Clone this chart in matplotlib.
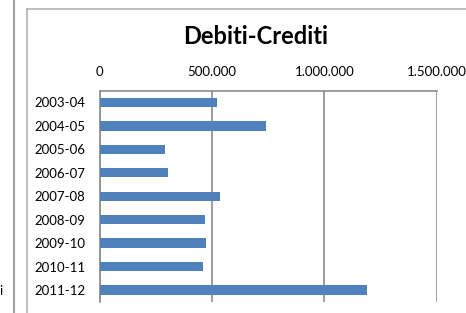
import matplotlib.pyplot as plt
from matplotlib.lines import Line2D
from matplotlib.ticker import FuncFormatter

# dati
stagioni = ["2003-04", "2004-05", "2005-06", "2006-07", "2007-08",
            "2008-09", "2009-10", "2010-11", "2011-12"]
valori = [524000, 741000, 291000, 306000, 537000, 470000, 475000, 459000, 1190000]
tick_x = [0, 500000, 1000000, 1500000]

W, H = 466, 313
fig = plt.figure(figsize=(W / 100, H / 100), dpi=100)
plt.rcParams['font.family'] = ['Lato', 'DejaVu Sans']

# cornice del grafico e bordo foglio
fig.add_artist(Line2D([27 / W, 27 / W], [0, 1 - 9 / H], color="#b0b0b0", lw=1.2))
fig.add_artist(Line2D([27 / W, 1], [1 - 9 / H, 1 - 9 / H], color="#b0b0b0", lw=1.2))
fig.add_artist(Line2D([14 / W, 14 / W], [0, 1], color="#a0a0a0", lw=1.5))
fig.text(-1 / W, 1 - 291 / H, "i", fontsize=9.5, va="center", ha="left")

ax = fig.add_axes([99.5 / W, 1 - 301.7 / H, (436.7 - 99.5) / W, (301.7 - 90.7) / H])
y = list(range(len(stagioni)))
ax.barh(y, valori, height=0.4, color="#4f81bd", zorder=3)

ax.set_ylim(len(stagioni) - 0.5, -0.5)
ax.set_xlim(0, 1500000)
ax.set_yticks(y)
ax.set_yticklabels(stagioni)
ax.set_xticks(tick_x)
ax.xaxis.set_major_formatter(FuncFormatter(lambda v, p: "0" if v == 0 else f"{int(v):,}".replace(",", ".")))
ax.xaxis.tick_top()
ax.tick_params(axis="both", length=0, labelsize=9.5)
ax.tick_params(axis="x", pad=9)
ax.tick_params(axis="y", pad=10)

ax.grid(axis="x", color="#8c8c8c", lw=1.2, zorder=0)
ax.set_axisbelow(True)
for s in ["bottom", "right"]:
    ax.spines[s].set_visible(False)
for s in ["top", "left"]:
    ax.spines[s].set_color("#8c8c8c")
    ax.spines[s].set_linewidth(1.2)

fig.text(256 / W, 1 - 37 / H, "Debiti-Crediti", fontsize=17, fontweight="bold",
         ha="center", va="center")

fig.savefig("out.png", dpi=100)
